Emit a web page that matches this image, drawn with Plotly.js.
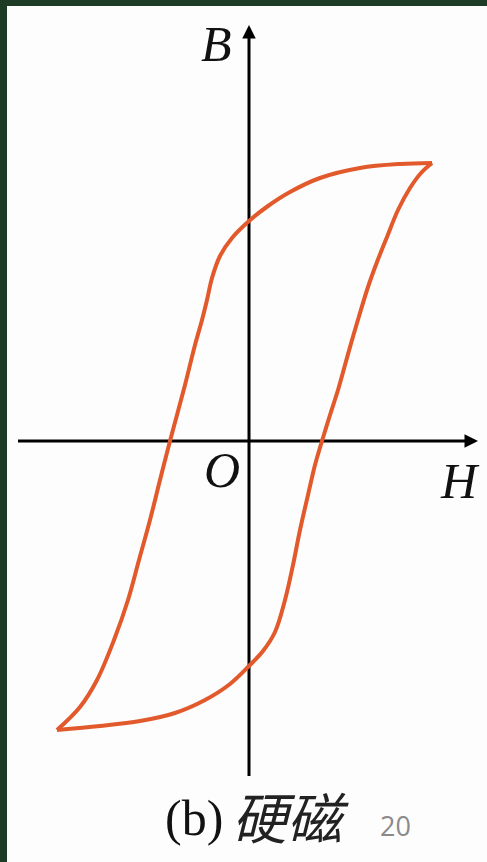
<!DOCTYPE html>
<html>
<head>
<meta charset="utf-8">
<script src="https://cdn.plot.ly/plotly-3.0.1.min.js"></script>
<style>
  html, body { margin: 0; padding: 0; background: #1e3b25; width: 487px; height: 862px; overflow: hidden; }
  #chart { position: absolute; left: 7px; top: 6px; width: 480px; height: 856px; background: #fdfdfd; }
</style>
</head>
<body>
<div id="chart"></div>
<script>
// Hysteresis loop of a hard magnetic material (B against H, arbitrary units).
// Descending branch: from positive saturation down to negative saturation.
const descH = [1.83, 1.51, 1.11, 0.71, 0.41, 0.19, 0.00, -0.17, -0.29, -0.37, -0.42, -0.47, -0.54, -0.64, -0.72, -0.79, -0.89, -0.99, -1.10, -1.21, -1.35, -1.52, -1.69, -1.92];
const descB = [2.78, 2.77, 2.73, 2.63, 2.49, 2.35, 2.20, 2.03, 1.85, 1.63, 1.41, 1.21, 0.96, 0.56, 0.26, 0.00, -0.39, -0.79, -1.19, -1.59, -1.99, -2.39, -2.66, -2.89];

// Ascending branch: from negative saturation back up to positive saturation.
const ascH = [-1.92, -1.49, -1.09, -0.74, -0.44, -0.19, 0.00, 0.14, 0.26, 0.36, 0.44, 0.51, 0.59, 0.66, 0.73, 0.81, 0.89, 0.96, 1.03, 1.11, 1.19, 1.28, 1.38, 1.49, 1.61, 1.72, 1.83];
const ascB = [-2.89, -2.85, -2.80, -2.72, -2.59, -2.43, -2.25, -2.10, -1.91, -1.59, -1.24, -0.89, -0.54, -0.24, 0.00, 0.26, 0.51, 0.76, 1.01, 1.28, 1.54, 1.79, 2.04, 2.31, 2.53, 2.68, 2.78];

// Axis labels and caption
const axisLabelH = "H";
const axisLabelB = "B";
const originLabel = "O";
const captionTag = "(b)";
const captionText = "硬磁";
const pageNumber = "20";

// Extent of the drawn axes (data units)
const hAxisExtent = [-2.31, 2.29];
const bAxisExtent = [-3.35, 4.16];

const loopColor = "#e2592c";
const loopWidth = 4;

const traces = [
  { x: descH, y: descB, mode: "lines", line: { color: loopColor, width: loopWidth, shape: "spline", smoothing: 1 }, hoverinfo: "skip" },
  { x: ascH, y: ascB, mode: "lines", line: { color: loopColor, width: loopWidth, shape: "spline", smoothing: 1 }, hoverinfo: "skip" }
];

const serif = "Liberation Serif, Times New Roman, serif";

const layout = {
  width: 480,
  height: 856,
  margin: { l: 0, r: 0, t: 0, b: 0 },
  paper_bgcolor: "#fdfdfd",
  plot_bgcolor: "#fdfdfd",
  showlegend: false,
  xaxis: { range: [-2.42, 2.38], visible: false, fixedrange: true },
  yaxis: { range: [-4.21, 4.35], visible: false, fixedrange: true },
  shapes: [
    { type: "line", layer: "below", x0: hAxisExtent[0], x1: hAxisExtent[1] - 0.06, y0: 0, y1: 0, line: { color: "#000", width: 3 } },
    { type: "line", layer: "below", x0: 0, x1: 0, y0: bAxisExtent[0], y1: bAxisExtent[1] - 0.08, line: { color: "#000", width: 3 } }
  ],
  annotations: [
    // arrowheads
    { x: hAxisExtent[1], y: 0, ax: hAxisExtent[1] - 0.12, ay: 0, xref: "x", yref: "y", axref: "x", ayref: "y",
      text: "", showarrow: true, arrowhead: 2, arrowsize: 0.9, arrowwidth: 3, arrowcolor: "#000" },
    { x: 0, y: bAxisExtent[1], ax: 0, ay: bAxisExtent[1] - 0.14, xref: "x", yref: "y", axref: "x", ayref: "y",
      text: "", showarrow: true, arrowhead: 2, arrowsize: 0.9, arrowwidth: 3, arrowcolor: "#000" },
    // axis labels
    { x: -0.33, y: 3.97, xref: "x", yref: "y", text: "<i>" + axisLabelB + "</i>", showarrow: false,
      font: { family: serif, size: 50, color: "#111" } },
    { x: -0.27, y: -0.29, xref: "x", yref: "y", text: "<i>" + originLabel + "</i>", showarrow: false,
      font: { family: serif, size: 50, color: "#111" } },
    { x: 2.11, y: -0.40, xref: "x", yref: "y", text: "<i>" + axisLabelH + "</i>", showarrow: false,
      font: { family: serif, size: 50, color: "#111" } },
    // caption
    { x: -0.55, y: -3.77, xref: "x", yref: "y", text: captionTag, showarrow: false,
      font: { family: serif, size: 50, color: "#111" } },
    { x: 0.41, y: -3.74, xref: "x", yref: "y", text: "<i>" + captionText + "</i>", showarrow: false,
      font: { family: "Noto Sans CJK SC, sans-serif", size: 55, color: "#222" } },
    { x: 1.46, y: -3.84, xref: "x", yref: "y", text: pageNumber, showarrow: false,
      font: { family: "Open Sans, Liberation Sans, sans-serif", size: 27, color: "#8a8a8a" } }
  ]
};

Plotly.newPlot("chart", traces, layout, { displayModeBar: false, staticPlot: true });
</script>
</body>
</html>
